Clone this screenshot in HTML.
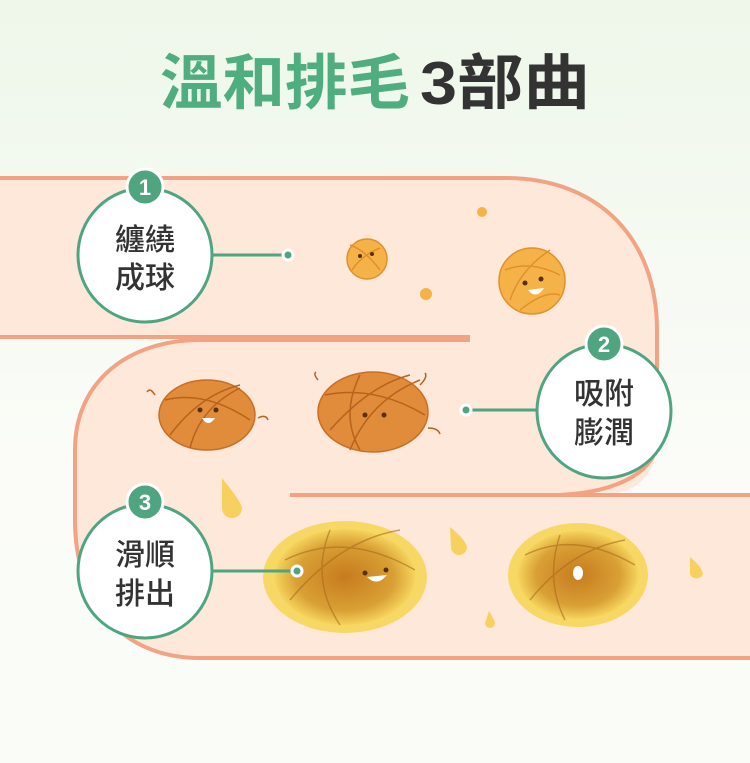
<!DOCTYPE html>
<html><head><meta charset="utf-8"><style>
html,body{margin:0;padding:0;width:750px;height:763px;overflow:hidden}
body{background:linear-gradient(#eef7ea,#fbfcf8 60%,#fafcf7)}
svg{display:block}
text{font-family:"Liberation Sans","Noto Sans CJK TC",sans-serif}
</style></head><body>
<svg width="750" height="763" viewBox="0 0 750 763">
<defs>
<radialGradient id="g1" cx="0.5" cy="0.5" r="0.5"><stop offset="0" stop-color="#c77b1e"/><stop offset="0.7" stop-color="#d9a035"/><stop offset="1" stop-color="#f5d35c"/></radialGradient>
</defs>
<text x="160" y="104" font-size="60" font-weight="bold" fill="#4fae80" textLength="250" lengthAdjust="spacingAndGlyphs">溫和排毛</text>
<text x="420" y="104" font-size="60" font-weight="bold" fill="#333" textLength="170" lengthAdjust="spacingAndGlyphs">3部曲</text>
<path d="M0,178 H505 C600,178 657,240 657,330 V440 C657,480 630,495 600,495 H750 V658 H200 C120,658 75,600 75,520 V450 C75,380 130,340 200,340 H470 V337 H0 Z" fill="#fde8da"/>
<path d="M0,178 H505 C600,178 657,240 657,330 V440 C657,470 620,492 560,495" fill="none" stroke="#f2a384" stroke-width="4"/>
<path d="M0,337 H470" stroke="#f2a384" stroke-width="4"/>
<path d="M470,340 H200 C130,340 75,380 75,450 V520 C75,600 120,658 200,658 H750" fill="none" stroke="#f2a384" stroke-width="4"/>
<path d="M290,495 H750" stroke="#f2a384" stroke-width="4"/>
<g stroke="#e0902c" stroke-width="1.5" fill="none">
<circle cx="367" cy="259" r="20" fill="#f5b347"/>
<circle cx="532" cy="281" r="33" fill="#f5b347"/>
<ellipse cx="207" cy="415" rx="48" ry="35" fill="#e08c3a" stroke="#c86f25"/>
<ellipse cx="373" cy="412" rx="55" ry="40" fill="#e08c3a" stroke="#c86f25"/>
<ellipse cx="345" cy="577" rx="82" ry="56" fill="#f8d865" stroke="none"/>
<ellipse cx="345" cy="577" rx="70" ry="48" fill="url(#g1)" stroke="none"/>
<ellipse cx="578" cy="575" rx="70" ry="52" fill="#f8d865" stroke="none"/>
<ellipse cx="578" cy="575" rx="60" ry="44" fill="url(#g1)" stroke="none"/>
<path d="M350,245 q15,5 30,25 M352,270 q10,-15 28,-22"/>
<path d="M505,270 q25,-10 55,5 M510,300 q10,-30 40,-50 M520,310 q25,-20 40,-15"/>
<g stroke="#b8621c"><path d="M165,400 q40,-10 85,20 M170,435 q30,-40 70,-50 M190,448 q10,-40 50,-60"/>
<path d="M325,395 q50,-10 100,20 M330,430 q40,-45 80,-55 M350,450 q20,-50 70,-70 M360,375 q-20,40 0,75"/>
<path d="M155,395 q-5,-8 -8,-3 M258,418 q8,-4 10,2 M420,385 q8,-8 5,-12 M428,428 q10,0 12,6 M318,380 q-5,-6 -2,-8"/></g>
<g stroke="#a86a1c" opacity="0.6"><path d="M285,560 q60,-30 130,10 M290,600 q50,-60 110,-70 M330,530 q-20,50 10,95"/>
<path d="M525,555 q50,-25 110,10 M530,600 q40,-50 95,-60 M560,535 q-15,45 5,85"/></g>
</g>
<g fill="#5a2e10">
<circle cx="360" cy="256" r="2"/><circle cx="372" cy="254" r="2"/>
<circle cx="525" cy="283" r="2.5"/><circle cx="541" cy="279" r="2.5"/>
<circle cx="200" cy="410" r="2.5"/><circle cx="216" cy="410" r="2.5"/>
<circle cx="365" cy="415" r="2.5"/><circle cx="384" cy="415" r="2.5"/>
<circle cx="365" cy="573" r="2.5"/><circle cx="386" cy="570" r="2.5"/>
</g>
<g fill="#fff">
<path d="M528,290 q8,10 16,-2 z"/><path d="M202,418 q6,10 13,0 z"/><path d="M367,577 q10,10 20,-2 z"/>
<ellipse cx="578" cy="573" rx="5" ry="7"/>
</g>
<g fill="#f5b347"><circle cx="482" cy="212" r="5"/><circle cx="426" cy="294" r="6"/></g>
<g fill="#f7d160"><path d="M222,478 q20,25 20,30 a10,10 0 0 1 -20,0 q0,-10 0,-30z"/><path d="M450,527 q15,12 17,20 a8,8 0 0 1 -16,0z"/><path d="M690,557 q12,10 13,17 a7,7 0 0 1 -13,0z"/><path d="M489,611 q5,8 6,12 a5,5 0 0 1 -10,0z"/></g>
<g stroke="#4fa57f" stroke-width="3" fill="#fff">
<line x1="210" y1="255" x2="288" y2="255"/><line x1="466" y1="410" x2="538" y2="410"/><line x1="210" y1="571" x2="297" y2="571"/>
<circle cx="145" cy="255" r="67"/><circle cx="604" cy="411" r="67"/><circle cx="145" cy="571" r="67"/>
</g>
<g fill="#4fa57f" stroke="#fff" stroke-width="3">
<circle cx="288" cy="255" r="5"/><circle cx="466" cy="410" r="5"/><circle cx="297" cy="571" r="5"/>
<circle cx="145" cy="187" r="18"/><circle cx="604" cy="344" r="18"/><circle cx="145" cy="502" r="18"/>
</g>
<g fill="#fff" font-size="22" font-weight="bold" text-anchor="middle">
<text x="145" y="195">1</text><text x="604" y="352">2</text><text x="145" y="510">3</text>
</g>
<g fill="#333" font-size="30" font-weight="500" text-anchor="middle">
<text x="145" y="250">纏繞</text><text x="145" y="288">成球</text>
<text x="604" y="404">吸附</text><text x="604" y="443">膨潤</text>
<text x="145" y="565">滑順</text><text x="145" y="604">排出</text>
</g>
</svg>
</body></html>
